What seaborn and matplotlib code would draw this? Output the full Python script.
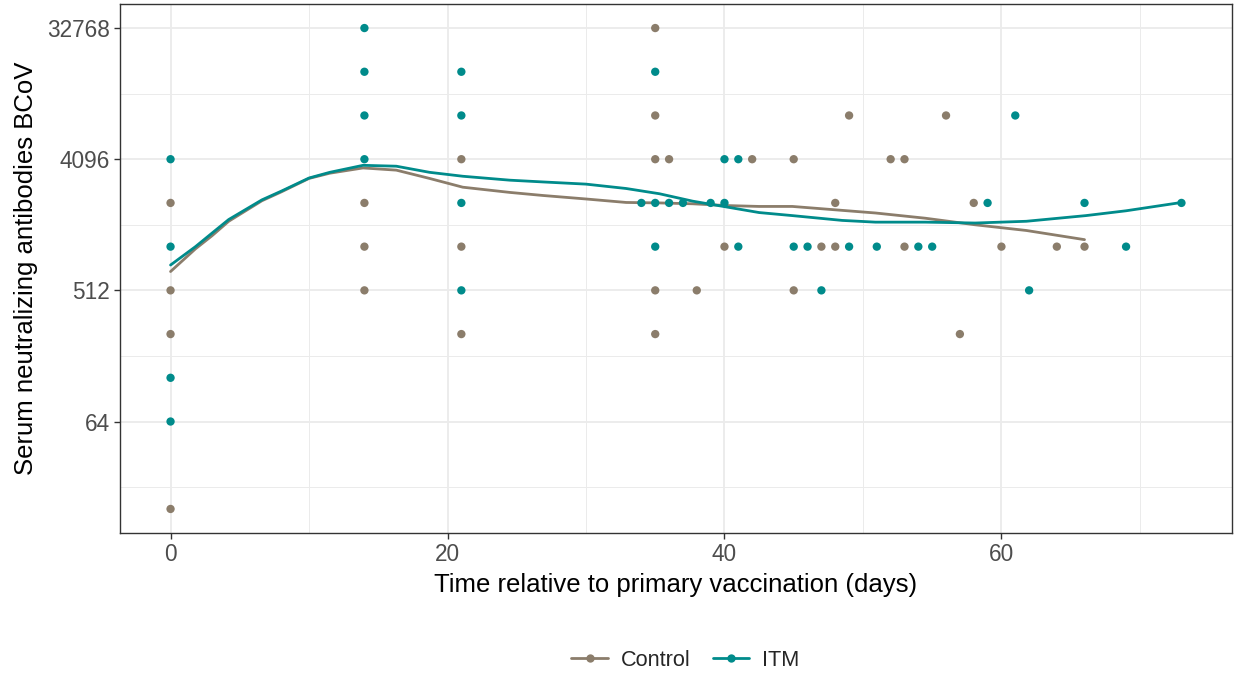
import numpy as np
import pandas as pd
import matplotlib
matplotlib.use("Agg")
import matplotlib.pyplot as plt
from matplotlib.lines import Line2D
from matplotlib.ticker import FixedLocator, NullFormatter
import seaborn as sns

# Serum neutralizing antibody titres (BCoV) by day after primary vaccination
control_days = [0, 0, 0, 0, 14, 14, 14, 21, 21, 21,
                35, 35, 35, 35, 35, 36, 38, 40, 42, 45, 45,
                47, 48, 48, 49, 52, 53, 53, 56, 57, 58, 60, 64, 66]
control_titres = [2048, 512, 256, 16, 2048, 1024, 512, 4096, 1024, 256,
                  32768, 8192, 4096, 512, 256, 4096, 512, 1024, 4096, 4096, 512,
                  1024, 2048, 1024, 8192, 4096, 4096, 1024, 8192, 256, 2048, 1024, 1024, 1024]

itm_days = [0, 0, 0, 0, 14, 14, 14, 14, 21, 21, 21, 21,
            34, 35, 35, 35, 36, 37, 39, 40, 40, 41, 41,
            45, 46, 47, 49, 51, 54, 55, 59, 61, 62, 66, 69, 73]
itm_titres = [4096, 1024, 128, 64, 32768, 16384, 8192, 4096, 16384, 8192, 2048, 512,
              2048, 16384, 2048, 1024, 2048, 2048, 2048, 4096, 2048, 4096, 1024,
              1024, 1024, 512, 1024, 1024, 1024, 1024, 2048, 8192, 512, 2048, 1024, 2048]

# Fitted (loess) trend of titre over time for each group
control_trend_days = [0, 1.8, 3, 4.2, 6.6, 8, 10, 11.5, 13.9, 16.3, 18.7, 21.1,
                      24.5, 26.9, 30, 32.9, 35.3, 37.7, 40.1, 42.5, 44.9, 48.5,
                      50.9, 54.5, 58.1, 61.8, 66]
control_trend_titres = [690, 989, 1218, 1531, 2120, 2440, 3020, 3281, 3566, 3444, 3020, 2628,
                        2419, 2304, 2180, 2063, 2048, 2020, 1965, 1937, 1937, 1820,
                        1746, 1607, 1448, 1323, 1144]

itm_trend_days = [0, 1.8, 3, 4.2, 6.6, 8, 10, 11.5, 13.9, 16.3, 18.7, 21.1,
                  24.5, 26.9, 30, 32.9, 35.3, 37.7, 40.1, 42.5, 44.9, 48.5,
                  50.9, 54.5, 58.1, 61.8, 66.1, 69, 73]
itm_trend_titres = [765, 1024, 1270, 1574, 2150, 2469, 3040, 3327, 3717, 3666, 3327, 3126,
                    2937, 2856, 2759, 2574, 2369, 2106, 1924, 1758, 1675, 1552,
                    1510, 1510, 1489, 1531, 1675, 1808, 2063]

groups = ["Control", "ITM"]
colours = {"Control": "#8B7D6B", "ITM": "#008B8B"}
y_breaks = [64, 512, 4096, 32768]
x_breaks = [0, 20, 40, 60]

points = pd.concat([
    pd.DataFrame({"day": control_days, "titre": control_titres, "group": "Control"}),
    pd.DataFrame({"day": itm_days, "titre": itm_titres, "group": "ITM"}),
], ignore_index=True)

trend = pd.concat([
    pd.DataFrame({"day": control_trend_days, "titre": control_trend_titres, "group": "Control"}),
    pd.DataFrame({"day": itm_trend_days, "titre": itm_trend_titres, "group": "ITM"}),
], ignore_index=True)

sns.set_theme(style="white")
plt.rcParams["font.family"] = ["Liberation Sans", "DejaVu Sans"]

fig = plt.figure(figsize=(12.35, 6.76), dpi=100)
ax = fig.add_axes([120 / 1235, 1 - 533 / 676, (1232 - 120) / 1235, (533 - 4) / 676])

sns.lineplot(data=trend, x="day", y="titre", hue="group", palette=colours,
             hue_order=groups, linewidth=2.0, ax=ax, legend=False, zorder=3,
             sort=True, estimator=None)
sns.scatterplot(data=points, x="day", y="titre", hue="group", palette=colours,
                hue_order=groups, s=36, linewidth=0, ax=ax, legend=False, zorder=4)

ax.set_yscale("log", base=2)
lo, hi = np.log2(16), np.log2(32768)
pad = 0.05 * (hi - lo)
ax.set_ylim(2 ** (lo - pad), 2 ** (hi + pad))
ax.set_xlim(-0.05 * 73, 73 * 1.05)

ax.yaxis.set_major_locator(FixedLocator(y_breaks))
ax.set_yticklabels([str(v) for v in y_breaks])
ax.yaxis.set_minor_locator(FixedLocator([2 ** 4.5, 2 ** 7.5, 2 ** 10.5, 2 ** 13.5]))
ax.yaxis.set_minor_formatter(NullFormatter())
ax.xaxis.set_major_locator(FixedLocator(x_breaks))
ax.xaxis.set_minor_locator(FixedLocator([10, 30, 50, 70]))

ax.grid(True, which="major", color="#EBEBEB", linewidth=1.3)
ax.grid(True, which="minor", color="#EBEBEB", linewidth=0.7)
ax.set_axisbelow(True)

for sp in ax.spines.values():
    sp.set_color("#333333")
    sp.set_linewidth(1.0)

ax.tick_params(axis="both", which="major", length=4, width=1.0, color="#333333",
               labelsize=16.3, labelcolor="#4D4D4D", pad=3, direction="out",
               left=True, bottom=True)
ax.tick_params(axis="both", which="minor", length=0)

ax.set_xlabel("Time relative to primary vaccination (days)", fontsize=18.5,
              color="black", labelpad=5)
ax.set_ylabel("Serum neutralizing antibodies BCoV", fontsize=18.5,
              color="black", labelpad=7)

handles = [Line2D([0], [0], color=colours[g], linewidth=2.0, marker="o",
                  markersize=6, markeredgewidth=0) for g in groups]
fig.legend(handles, groups, loc="center", bbox_to_anchor=(0.555, 1 - 660 / 676),
           ncol=2, frameon=False, fontsize=15.6, handlelength=1.7,
           columnspacing=1.0, handletextpad=0.6)

fig.savefig("out.png", dpi=100)
